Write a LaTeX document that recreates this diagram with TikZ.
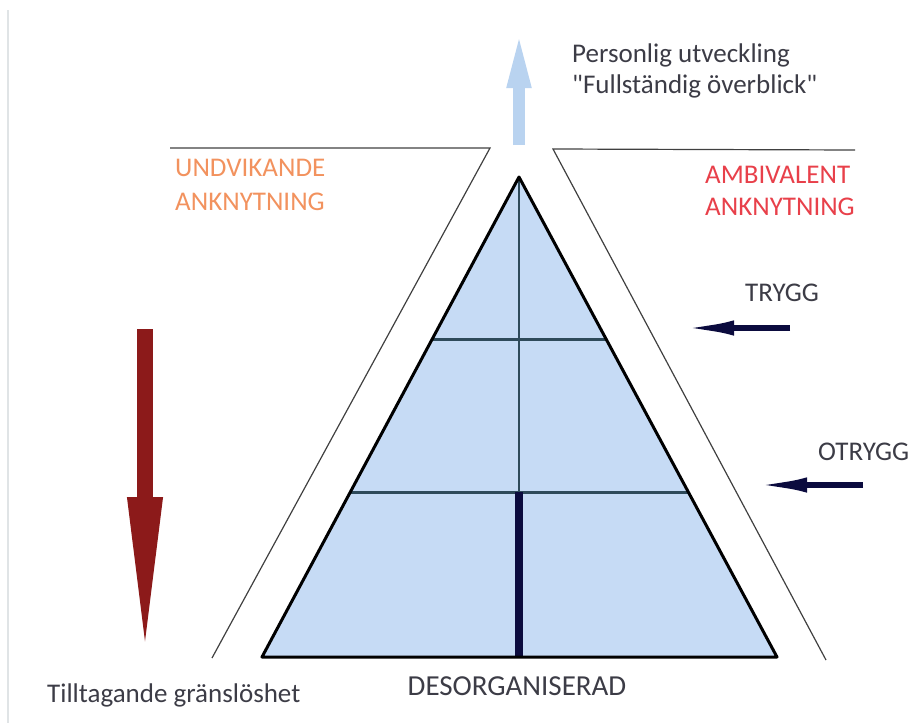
\documentclass[tikz,border=0pt]{standalone}
\usepackage{fontspec}
\setmainfont{Carlito}
\usetikzlibrary{arrows.meta}
\definecolor{pyrblue}{HTML}{C6DBF5}
\definecolor{uparrow}{HTML}{B9D3F0}
\definecolor{navy}{HTML}{0B0B3E}
\definecolor{slate}{HTML}{2E4A5A}
\definecolor{darkred}{HTML}{8C1A1A}
\definecolor{avoidorange}{HTML}{F2925E}
\definecolor{ambired}{HTML}{E8404A}
\definecolor{textgray}{HTML}{3C3C46}
\begin{document}
\begin{tikzpicture}[x=1pt,y=-1pt,
		label/.style={font=\fontsize{27}{32}\selectfont, anchor=base west, inner sep=0pt},
		frame/.style={draw=black!75, line width=1.2pt},
		pyredge/.style={draw=black, line width=3pt, line join=round},
		level/.style={draw=slate, line width=3pt},
		sidearrow/.style={draw=navy, line width=6pt, -{Latex[length=54pt,width=15pt]}}]
	\useasboundingbox (0,0) rectangle (914,723);
	\draw[draw=cyan!10!gray!25, line width=1.5pt] (8,10) -- (8,723);
	% corners
	\coordinate (top) at (519,177);
	\coordinate (bl) at (262,657);
	\coordinate (br) at (777,657);
	\coordinate (ml) at (432,339);
	\coordinate (mr) at (606,339);
	\coordinate (ll) at (350,492);
	\coordinate (lr) at (688,492);
	\coordinate (mid) at (519,492);
	\coordinate (bm) at (519,657);
	% outer frame
	\coordinate (fl) at (170,148);
	\coordinate (fa) at (490,148);
	\coordinate (fb) at (553,149);
	\coordinate (fr) at (855,150);
	\coordinate (fbl) at (212,658);
	\coordinate (fbr) at (826,660);
	\draw[frame] (fl) -- (fa) -- (fbl);
	\draw[frame] (fr) -- (fb) -- (fbr);
	% pyramid
	\fill[pyrblue] (top) -- (bl) -- (br) -- cycle;
	\draw[level] (ml) -- (mr);
	\draw[level] (ll) -- (lr);
	\draw[draw=slate, line width=2pt] (top) -- (mid);
	\draw[draw=navy, line width=8pt] (mid) -- (bm);
	\draw[pyredge] (top) -- (bl) -- (br) -- cycle;
	% arrows
	\coordinate (upfoot) at (519,145);
	\coordinate (uptip) at (519,28);
	\draw[draw=uparrow, line width=12pt, -{Triangle[length=60pt,width=21pt]}] (upfoot) -- (uptip);
	\coordinate (downtop) at (145,329);
	\coordinate (downtip) at (145,663);
	\draw[draw=darkred, line width=16pt, -{Triangle[length=166pt,width=31pt]}] (downtop) -- (downtip);
	\coordinate (tryggfoot) at (790,328);
	\coordinate (tryggtip) at (680,328);
	\draw[sidearrow] (tryggfoot) -- (tryggtip);
	\coordinate (otryggfoot) at (863,485);
	\coordinate (otryggtip) at (753,485);
	\draw[sidearrow] (otryggfoot) -- (otryggtip);
	% texts
	\node[label, text=textgray] (growth) at (572,62) {Personlig utveckling};
	\node[label, text=textgray] (overview) at (572,93) {\textquotedbl Fullständig överblick\textquotedbl};
	\node[label, text=avoidorange] (avoid1) at (175,176) {UNDVIKANDE};
	\node[label, text=avoidorange] (avoid2) at (175,210) {ANKNYTNING};
	\node[label, text=ambired] (ambi1) at (705,183) {AMBIVALENT};
	\node[label, text=ambired] (ambi2) at (705,215) {ANKNYTNING};
	\node[label, text=textgray] (secure) at (745,301) {TRYGG};
	\node[label, text=textgray] (insecure) at (818,460) {OTRYGG};
	\node[label, text=textgray] (limits) at (47,702) {Tilltagande gränslöshet};
	\node[label, text=textgray, anchor=base, font=\fontsize{29}{34}\selectfont] (disorg) at (517,695) {DESORGANISERAD};
\end{tikzpicture}
\end{document}
